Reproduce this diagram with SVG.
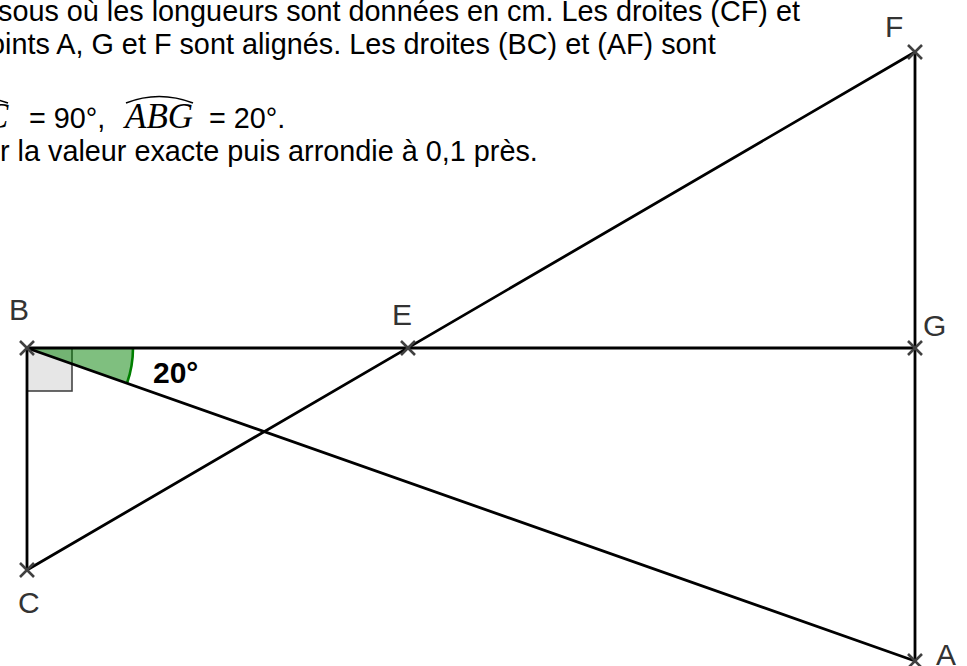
<svg xmlns="http://www.w3.org/2000/svg" width="967" height="666" viewBox="0 0 967 666">
<style>
.txt{font-family:"Liberation Sans",Arial,sans-serif;font-size:28.8px;fill:#000}
.math{font-family:"Liberation Serif","Times New Roman",serif;font-style:italic;font-size:35px;fill:#000}
.lbl{font-family:"Liberation Sans",Arial,sans-serif;font-size:30px;fill:#333}
.seg{stroke:#000;stroke-width:2.8;fill:none;stroke-linecap:round}
.pt{stroke:#404040;stroke-width:2.6;fill:none}
.hat{stroke:#000;stroke-width:1.6;fill:none}
</style>
<defs>
<path id="cross" d="M-7,-7 L7,7 M-7,7 L7,-7"/>
</defs>
<rect width="967" height="666" fill="#fff"/>
<g id="statement">
<text class="txt" x="-2" y="21">sous où les longueurs sont données en cm. Les droites (CF) et</text>
<text class="txt" x="-27" y="54">points A, G et F sont alignés. Les droites (BC) et (AF) sont</text>
<text class="math" x="-15" y="128">C</text>
<path class="hat" d="M-60,103 Q-26,91 8,103"/>
<text class="txt" x="29" y="128">= 90°,</text>
<text class="math" x="125" y="128">ABG</text>
<path class="hat" d="M126,103 Q159,90 193,103"/>
<text class="txt" x="209" y="128">= 20°.</text>
<text class="txt" x="0" y="161">r la valeur exacte puis arrondie à 0,1 près.</text>
</g>
<g id="angles">
<rect x="27" y="348" width="45" height="43" fill="#e6e6e6" stroke="#444" stroke-width="1.6"/>
<path d="M27,348 L133,348 A106,106 0 0 1 127,383.2 Z" fill="#007f00" fill-opacity="0.5" stroke="none"/>
<path d="M133,348 A106,106 0 0 1 127,383.2" fill="none" stroke="#007f00" stroke-width="2.6"/>
<text x="153" y="383" font-family="'Liberation Sans',Arial,sans-serif" font-size="30" font-weight="bold" fill="#000">20°</text>
</g>
<g id="connectors">
<line class="seg" x1="27" y1="348" x2="915" y2="348"/>
<line class="seg" x1="27" y1="348" x2="27" y2="570"/>
<line class="seg" x1="915" y1="52" x2="915" y2="661"/>
<line class="seg" x1="27" y1="570" x2="915" y2="52"/>
<line class="seg" x1="27" y1="348" x2="915" y2="661"/>
</g>
<g id="node-B"><use href="#cross" class="pt" transform="translate(27,348)"/><text class="lbl" x="9" y="320">B</text></g>
<g id="node-E"><use href="#cross" class="pt" transform="translate(408,348)"/><text class="lbl" x="392" y="325">E</text></g>
<g id="node-G"><use href="#cross" class="pt" transform="translate(915,348)"/><text class="lbl" x="923" y="336">G</text></g>
<g id="node-F"><use href="#cross" class="pt" transform="translate(915,52)"/><text class="lbl" x="885" y="37">F</text></g>
<g id="node-A"><use href="#cross" class="pt" transform="translate(915,661)"/><text class="lbl" x="936" y="665">A</text></g>
<g id="node-C"><use href="#cross" class="pt" transform="translate(27,570)"/><text class="lbl" x="18" y="613">C</text></g>
</svg>
